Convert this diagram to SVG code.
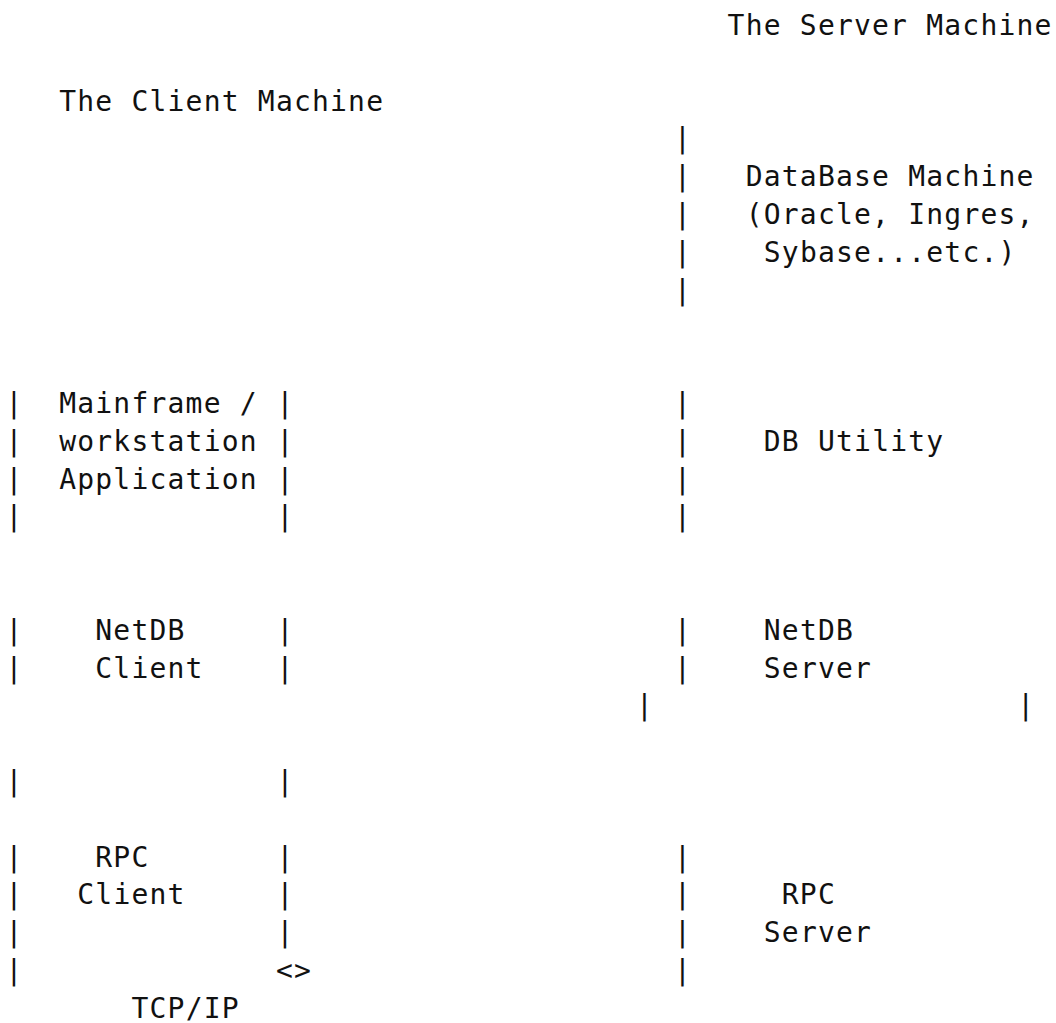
<svg xmlns="http://www.w3.org/2000/svg" width="1056" height="1023" viewBox="0 0 1056 1023">
  <style>
    /* monospaced text grid: 18.07px per column, 37.8px per row */
    .t { font-family: "DejaVu Sans Mono", "Liberation Mono", monospace; font-size: 28px; letter-spacing: 1.2px; fill: #111; white-space: pre; }
  </style>
  <rect width="1056" height="1023" fill="#fff"/>

  <!-- machine titles -->
  <g id="server-machine-title">
    <text class="t" x="727.6" y="35">The Server Machine</text>
  </g>
  <g id="client-machine-title">
    <text class="t" x="59.2" y="110.6">The Client Machine</text>
  </g>

  <!-- database machine on the server side -->
  <g id="database-machine">
    <text class="t" x="745.7" y="186.2">DataBase Machine</text>
    <text class="t" x="745.7" y="224">(Oracle, Ingres,</text>
    <text class="t" x="763.8" y="261.8">Sybase...etc.)</text>
  </g>

  <!-- client application box -->
  <g id="client-application">
    <text class="t" x="59.2" y="413">Mainframe /</text>
    <text class="t" x="59.2" y="450.8">workstation</text>
    <text class="t" x="59.2" y="488.6">Application</text>
  </g>

  <g id="db-utility">
    <text class="t" x="763.8" y="450.8">DB Utility</text>
  </g>

  <g id="netdb-client">
    <text class="t" x="95.3" y="639.8">NetDB</text>
    <text class="t" x="95.3" y="677.6">Client</text>
  </g>

  <g id="netdb-server">
    <text class="t" x="763.8" y="639.8">NetDB</text>
    <text class="t" x="763.8" y="677.6">Server</text>
  </g>

  <g id="rpc-client">
    <text class="t" x="95.3" y="866.6">RPC</text>
    <text class="t" x="77.3" y="904.4">Client</text>
  </g>

  <g id="rpc-server">
    <text class="t" x="781.8" y="904.4">RPC</text>
    <text class="t" x="763.8" y="942.2">Server</text>
  </g>

  <g id="tcp-ip">
    <text class="t" x="276" y="980">&lt;&gt;</text>
    <text class="t" x="131.5" y="1017.8">TCP/IP</text>
  </g>

  <!-- vertical bar strokes drawn as "|" characters on the text grid -->
  <g id="connectors">
    <!-- server-side divider beside the database machine -->
    <text class="t" x="674" y="148.4">|</text>
    <text class="t" x="674" y="186.2">|</text>
    <text class="t" x="674" y="224">|</text>
    <text class="t" x="674" y="261.8">|</text>
    <text class="t" x="674" y="299.6">|</text>

    <!-- application box sides -->
    <text class="t" x="5.6" y="413">|</text>
    <text class="t" x="276.6" y="413">|</text>
    <text class="t" x="674" y="413">|</text>
    <text class="t" x="5.6" y="450.8">|</text>
    <text class="t" x="276.6" y="450.8">|</text>
    <text class="t" x="674" y="450.8">|</text>
    <text class="t" x="5.6" y="488.6">|</text>
    <text class="t" x="276.6" y="488.6">|</text>
    <text class="t" x="674" y="488.6">|</text>
    <text class="t" x="5.6" y="526.4">|</text>
    <text class="t" x="276.6" y="526.4">|</text>
    <text class="t" x="674" y="526.4">|</text>

    <!-- NetDB layer sides -->
    <text class="t" x="5.6" y="639.8">|</text>
    <text class="t" x="276.6" y="639.8">|</text>
    <text class="t" x="674" y="639.8">|</text>
    <text class="t" x="5.6" y="677.6">|</text>
    <text class="t" x="276.6" y="677.6">|</text>
    <text class="t" x="674" y="677.6">|</text>
    <text class="t" x="636" y="715.4">|</text>
    <text class="t" x="1017.3" y="715.4">|</text>

    <text class="t" x="5.6" y="791">|</text>
    <text class="t" x="276.6" y="791">|</text>

    <!-- RPC layer sides -->
    <text class="t" x="5.6" y="866.6">|</text>
    <text class="t" x="276.6" y="866.6">|</text>
    <text class="t" x="674" y="866.6">|</text>
    <text class="t" x="5.6" y="904.4">|</text>
    <text class="t" x="276.6" y="904.4">|</text>
    <text class="t" x="674" y="904.4">|</text>
    <text class="t" x="5.6" y="942.2">|</text>
    <text class="t" x="276.6" y="942.2">|</text>
    <text class="t" x="674" y="942.2">|</text>
    <text class="t" x="5.6" y="980">|</text>
    <text class="t" x="674" y="980">|</text>
  </g>
</svg>
